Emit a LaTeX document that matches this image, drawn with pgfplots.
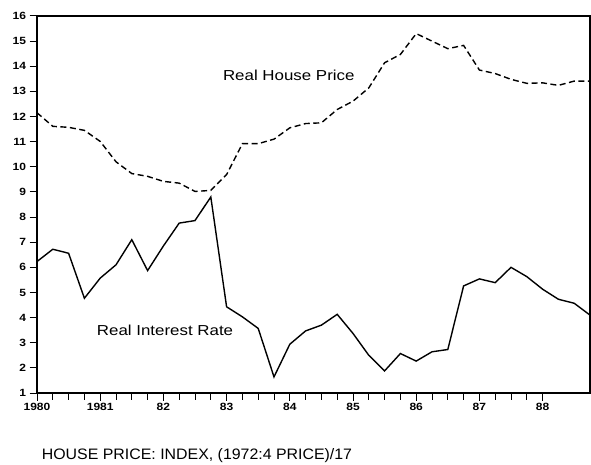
\documentclass[border=0pt]{standalone}
\usepackage{fontspec}
\setmainfont{Liberation Sans}
\newfontfamily\labelfont[FakeStretch=1.17]{Liberation Sans}
\newfontfamily\capfont[FakeStretch=1.05]{Liberation Sans}
\newfontfamily\tickfont[FakeStretch=1.15]{Liberation Sans}
\usepackage{pgfplots}
\pgfplotsset{compat=1.18}
\begin{document}
\begin{tikzpicture}
\begin{axis}[
  name=ax,
  scale only axis,
  width=553bp, height=377bp,
  xmin=1980, xmax=1988.75,
  ymin=1, ymax=16,
  axis line style={line width=1.2bp},
  xtick={1980,1981,1982,1983,1984,1985,1986,1987,1988},
  xticklabels={1980,1981,82,83,84,85,86,87,88},
  minor x tick num=3,
  ytick={1,2,...,16},
  tick align=outside,
  xtick pos=bottom, ytick pos=left,
  major tick length=7.5bp, minor tick length=6.5bp,
  every tick/.style={black, line width=1bp},
  tick label style={font=\tickfont\fontsize{10.5}{11}\selectfont\bfseries},
  /pgf/number format/assume math mode=true,
  yticklabel style={xshift=0bp},
  xticklabel style={yshift=1bp},
  clip=false,
]
\addplot[black, line width=1.4bp] coordinates {
(1980.00,6.23) (1980.25,6.72) (1980.50,6.56) (1980.75,4.77)
(1981.00,5.57) (1981.25,6.10) (1981.50,7.10) (1981.75,5.87)
(1982.00,6.85) (1982.25,7.76) (1982.50,7.86) (1982.75,8.80)
(1983.00,4.43) (1983.25,4.03) (1983.50,3.57) (1983.75,1.64)
(1984.00,2.94) (1984.25,3.47) (1984.50,3.70) (1984.75,4.13)
(1985.00,3.37) (1985.25,2.50) (1985.50,1.88) (1985.75,2.57)
(1986.00,2.27) (1986.25,2.64) (1986.50,2.73) (1986.75,5.26)
(1987.00,5.54) (1987.25,5.39) (1987.50,6.00) (1987.75,5.63)
(1988.00,5.13) (1988.25,4.73) (1988.50,4.57) (1988.75,4.10)
};
\addplot[black, line width=1.4bp, dash pattern=on 6bp off 3.5bp] coordinates {
(1980.00,12.15) (1980.25,11.61) (1980.50,11.57) (1980.75,11.45)
(1981.00,11.01) (1981.25,10.20) (1981.50,9.73) (1981.75,9.62)
(1982.00,9.42) (1982.25,9.35) (1982.50,9.02) (1982.75,9.06)
(1983.00,9.69) (1983.25,10.92) (1983.50,10.92) (1983.75,11.10)
(1984.00,11.55) (1984.25,11.72) (1984.50,11.75) (1984.75,12.28)
(1985.00,12.61) (1985.25,13.14) (1985.50,14.14) (1985.75,14.47)
(1986.00,15.30) (1986.25,15.00) (1986.50,14.70) (1986.75,14.83)
(1987.00,13.85) (1987.25,13.71) (1987.50,13.48) (1987.75,13.32)
(1988.00,13.34) (1988.25,13.24) (1988.50,13.41) (1988.75,13.41)
};
\node[anchor=base west, inner sep=0pt, font=\labelfont\fontsize{14.5}{16}\selectfont] at (axis cs:1982.94,13.43) {Real House Price};
\node[anchor=base west, inner sep=0pt, font=\labelfont\fontsize{14.5}{16}\selectfont] at (axis cs:1980.945,3.28) {Real Interest Rate};
\coordinate (bl) at (rel axis cs:0,0);
\coordinate (tr) at (rel axis cs:1,1);
\end{axis}
\node[anchor=base west, inner sep=0pt, font=\capfont\fontsize{15.2}{17}\selectfont] at ([xshift=4.7bp,yshift=-66bp]bl) {HOUSE PRICE: INDEX, (1972:4 PRICE)/17};
\pgfresetboundingbox
\path ([xshift=-37bp,yshift=-72bp]bl) rectangle ([xshift=1bp,yshift=16bp]tr);
\end{tikzpicture}
\end{document}
